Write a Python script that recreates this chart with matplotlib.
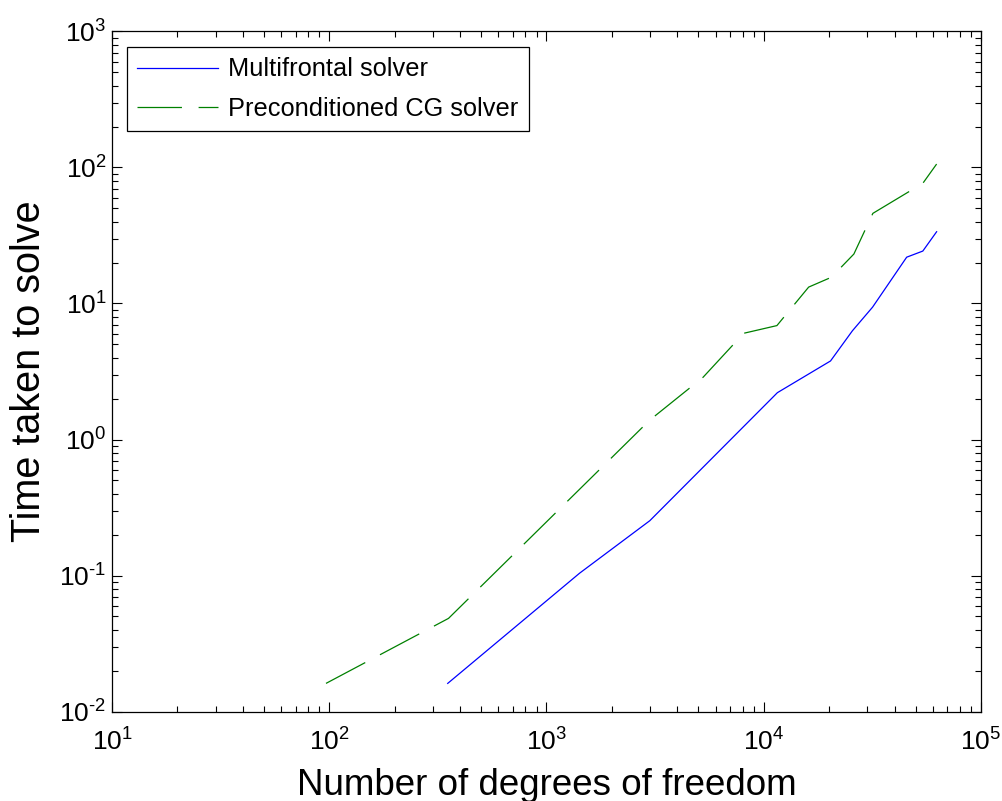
import math
import matplotlib
matplotlib.use("Agg")
import matplotlib.pyplot as plt
from matplotlib.ticker import LogLocator, FuncFormatter, NullFormatter

plt.rcParams['font.family'] = ['Liberation Sans', 'DejaVu Sans']
plt.rcParams['mathtext.fontset'] = 'custom'
plt.rcParams['mathtext.rm'] = 'Liberation Sans'
plt.rcParams['mathtext.it'] = 'Liberation Sans'
plt.rcParams['mathtext.bf'] = 'Liberation Sans'
plt.rcParams['lines.scale_dashes'] = False

# Data
multifrontal_dof = [351, 1420, 2990, 11560, 20300, 25600, 31700, 45500, 54000, 62500]
multifrontal_time = [0.0161, 0.104, 0.253, 2.21, 3.78, 6.3, 9.4, 21.9, 24.3, 33.7]

pcg_dof = [96.6, 354, 2990, 5260, 8090, 11500, 16100, 20500, 26000, 31800, 54000, 62500]
pcg_time = [0.0161, 0.0484, 1.39, 2.87, 6.04, 6.88, 13.2, 15.6, 23.1, 46.0, 76.5, 106.0]

series_labels = ["Multifrontal solver", "Preconditioned CG solver"]
x_label = "Number of degrees of freedom"
y_label = "Time taken to solve"
x_limits = (1e1, 1e5)
y_limits = (1e-2, 1e3)

fig = plt.figure(figsize=(10.02, 8.01), dpi=100)
ax = fig.add_axes([0.1118, 0.1117, 0.979 - 0.1118, 0.9607 - 0.1117])

lw = 0.9
ax.plot(multifrontal_dof, multifrontal_time, color='#0000FF', lw=lw, label=series_labels[0])
ax.plot(pcg_dof, pcg_time, color='#008000', lw=lw, dashes=(32, 12), label=series_labels[1])

ax.set_xscale('log')
ax.set_yscale('log')
ax.set_xlim(*x_limits)
ax.set_ylim(*y_limits)

ax.xaxis.set_major_locator(LogLocator(base=10, numticks=10))
ax.yaxis.set_major_locator(LogLocator(base=10, numticks=10))
ax.xaxis.set_minor_locator(LogLocator(base=10, subs=range(2, 10), numticks=100))
ax.yaxis.set_minor_locator(LogLocator(base=10, subs=range(2, 10), numticks=100))

def fmt(v, pos):
    e = int(round(math.log10(v)))
    if e < 0:
        return r'$\mathregular{10^{\text{-}%d}}$' % (-e)
    return r'$\mathregular{10^{%d}}$' % e

ax.xaxis.set_major_formatter(FuncFormatter(fmt))
ax.yaxis.set_major_formatter(FuncFormatter(fmt))
ax.xaxis.set_minor_formatter(NullFormatter())
ax.yaxis.set_minor_formatter(NullFormatter())

ax.tick_params(which='both', direction='in', top=True, right=True, width=0.8, colors='black')
ax.tick_params(which='major', length=7, labelsize=19)
ax.tick_params(which='minor', length=4.5)
ax.tick_params(axis='x', which='major', pad=12)
ax.tick_params(axis='y', which='major', pad=4)

for s in ax.spines.values():
    s.set_linewidth(0.9)
    s.set_color('black')

ax.set_xlabel(x_label, fontsize=26.5, labelpad=9)
ax.set_ylabel(y_label, fontsize=28.5, labelpad=8)

leg = ax.legend(loc='upper left', bbox_to_anchor=(0.1265, 0.941), bbox_transform=fig.transFigure,
                borderaxespad=0, fontsize=18.3, handlelength=3.2, handletextpad=0.4,
                labelspacing=0.6, borderpad=0.4, fancybox=False, framealpha=1,
                edgecolor='black')
leg.get_frame().set_linewidth(0.9)

fig.savefig('out.png', dpi=100, facecolor='white')
